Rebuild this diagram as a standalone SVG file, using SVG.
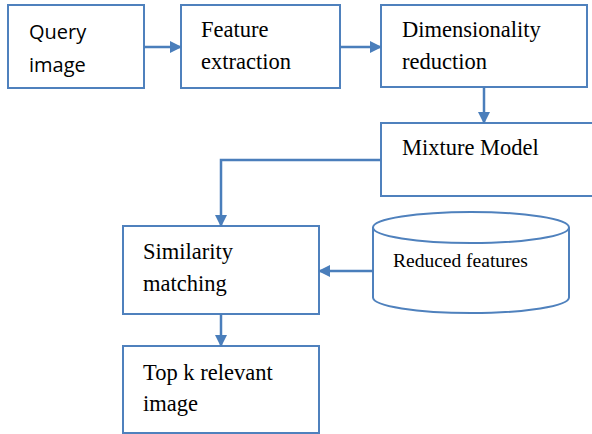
<svg xmlns="http://www.w3.org/2000/svg" width="592" height="434" viewBox="0 0 592 434">
<defs>
<marker id="ah" markerWidth="12" markerHeight="12" refX="11" refY="6" orient="auto" markerUnits="userSpaceOnUse">
<path d="M0,0 L12,6 L0,12 Z" fill="#4a7ebb"/>
</marker>
</defs>
<rect width="592" height="434" fill="#ffffff"/>
<g id="query">
<rect x="8" y="5" width="136" height="83" fill="#ffffff" stroke="#4f81bd" stroke-width="2"/>
<text x="29" y="39" font-family="Open Sans" font-size="20">Query</text>
<text x="29" y="72" font-family="Open Sans" font-size="20">image</text>
</g>
<g id="feature">
<rect x="181" y="5" width="159" height="83" fill="#ffffff" stroke="#4f81bd" stroke-width="2"/>
<text x="201" y="37" font-family="Liberation Serif" font-size="22.5">Feature</text>
<text x="201" y="69" font-family="Liberation Serif" font-size="22.5">extraction</text>
</g>
<g id="dimred">
<rect x="381" y="5" width="206" height="82" fill="#ffffff" stroke="#4f81bd" stroke-width="2"/>
<text x="402" y="37" font-family="Liberation Serif" font-size="22.5">Dimensionality</text>
<text x="402" y="69" font-family="Liberation Serif" font-size="22.5">reduction</text>
</g>
<g id="mixture">
<rect x="381" y="123" width="220" height="73" fill="#ffffff" stroke="#4f81bd" stroke-width="2"/>
<text x="402" y="155" font-family="Liberation Serif" font-size="22.5">Mixture Model</text>
</g>
<g id="similarity">
<rect x="123" y="226" width="196" height="88" fill="#ffffff" stroke="#4f81bd" stroke-width="2"/>
<text x="143" y="259" font-family="Liberation Serif" font-size="22.5">Similarity</text>
<text x="143" y="291" font-family="Liberation Serif" font-size="22.5">matching</text>
</g>
<g id="reduced">
<path d="M373,227.5 L373,297.5 A98,15.5 0 0 0 569,297.5 L569,227.5 A98,15.5 0 0 0 373,227.5 A98,15.5 0 0 0 569,227.5" fill="#ffffff" stroke="#4f81bd" stroke-width="2"/>
<text x="393" y="267" font-family="Liberation Serif" font-size="19.5">Reduced features</text>
</g>
<g id="topk">
<rect x="123" y="346" width="196" height="87" fill="#ffffff" stroke="#4f81bd" stroke-width="2"/>
<text x="143" y="380" font-family="Liberation Serif" font-size="22.5">Top k relevant</text>
<text x="143" y="411" font-family="Liberation Serif" font-size="22.5">image</text>
</g>
<g id="connectors" fill="none" stroke="#4a7ebb" stroke-width="2.5">
<path d="M144,47 H181" marker-end="url(#ah)"/>
<path d="M340,47 H381" marker-end="url(#ah)"/>
<path d="M484,87 V123" marker-end="url(#ah)"/>
<path d="M381,160 H221 V226" marker-end="url(#ah)"/>
<path d="M373,271 H319" marker-end="url(#ah)"/>
<path d="M221,314 V346" marker-end="url(#ah)"/>
</g>
</svg>
